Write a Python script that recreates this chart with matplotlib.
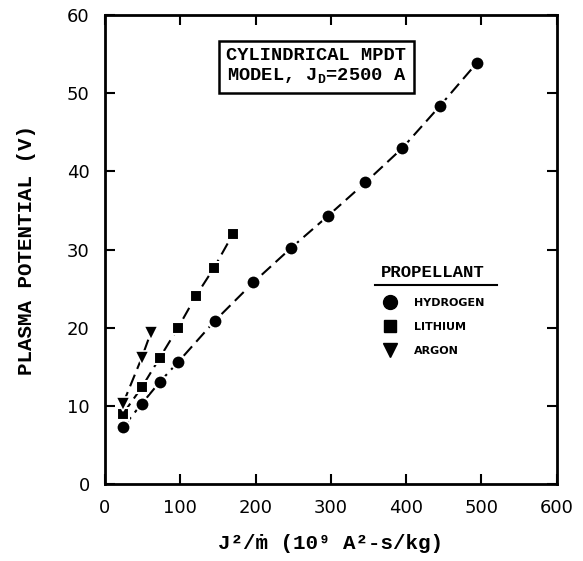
import matplotlib
matplotlib.use("Agg")
import matplotlib.pyplot as plt
from matplotlib.lines import Line2D

# Data
h_x = [24, 49, 73, 97, 146, 197, 247, 296, 346, 395, 445, 494]
h_y = [7.3, 10.3, 13.1, 15.6, 20.9, 25.8, 30.2, 34.3, 38.6, 43.0, 48.4, 53.9]
li_x = [24, 49, 73, 97, 121, 145, 170]
li_y = [9.0, 12.4, 16.2, 20.0, 24.1, 27.7, 32.0]
ar_x = [24, 49, 61]
ar_y = [10.3, 16.2, 19.4]

xticks = [0, 100, 200, 300, 400, 500, 600]
yticks = [0, 10, 20, 30, 40, 50, 60]
labels = ['HYDROGEN', 'LITHIUM', 'ARGON']

MONO = ['Liberation Mono', 'DejaVu Sans Mono']
SANS = ['DejaVu Sans']

fig = plt.figure(figsize=(5.83, 5.61), dpi=100)
ax = fig.add_axes([0.180, 0.137, 0.775, 0.836])

dash = (6, 3)
ax.plot(h_x, h_y, color='black', lw=1.5, dashes=dash, marker='o', ms=10,
        mec='white', mew=1.5, mfc='black')
ax.plot(li_x, li_y, color='black', lw=1.5, dashes=dash, marker='s', ms=8,
        mec='white', mew=1.5, mfc='black')
ax.plot(ar_x, ar_y, color='black', lw=1.5, dashes=dash, marker='v', ms=10.5,
        mec='white', mew=1.2, mfc='black')

ax.set_xlim(0, 600)
ax.set_ylim(0, 60)
ax.set_xticks(xticks)
ax.set_yticks(yticks)
ax.tick_params(direction='in', length=7, width=1.5, top=True, right=True,
               labelsize=13, pad=11)
for lab in ax.get_xticklabels() + ax.get_yticklabels():
    lab.set_family(SANS)
for s in ax.spines.values():
    s.set_linewidth(2)

ax.set_xlabel('J²/ṁ (10⁹ A²-s/kg)', family=MONO, fontweight='bold',
              fontsize=15, labelpad=12)
ax.set_ylabel('PLASMA POTENTIAL (V)', family=MONO, fontweight='bold',
              fontsize=15, labelpad=22)

ax.text(0.468, 0.891, 'CYLINDRICAL MPDT\nMODEL, J$_\\mathregular{D}$=2500 A',
        transform=ax.transAxes, ha='center', va='center', family=MONO,
        fontweight='bold', fontsize=13.5, linespacing=1.2,
        bbox=dict(boxstyle='square,pad=0.4', fc='white', ec='black', lw=1.8))

handles = [
    Line2D([], [], ls='none', marker='o', ms=10, color='black'),
    Line2D([], [], ls='none', marker='s', ms=9, color='black'),
    Line2D([], [], ls='none', marker='v', ms=10, color='black'),
]
leg = ax.legend(handles, labels, frameon=False,
                loc='upper left', bbox_to_anchor=(0.611, 0.397),
                prop={'family': SANS, 'weight': 'bold', 'size': 8},
                handlelength=1.6, handletextpad=1.4, labelspacing=1.25,
                borderaxespad=0, borderpad=0)
ax.text(0.726, 0.452, 'PROPELLANT', transform=ax.transAxes, ha='center',
        va='center', family=MONO, fontweight='bold', fontsize=12.5)
ax.plot([0.597, 0.867], [0.424, 0.424], transform=ax.transAxes,
        color='black', lw=1.5, clip_on=False)

fig.savefig('out.png', dpi=100)
